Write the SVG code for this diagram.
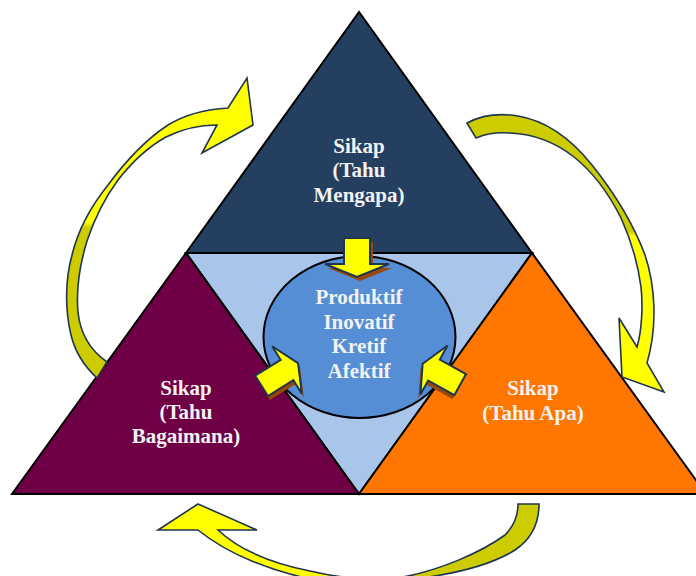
<svg xmlns="http://www.w3.org/2000/svg" width="696" height="576" viewBox="0 0 696 576">
  <defs>
    <style>
      .tri { stroke: #000000; stroke-width: 2; stroke-linejoin: miter; }
      .lbl { font-family: "Liberation Serif", "Times New Roman", serif; font-weight: bold; font-size: 21px; fill: #F2F2F2; text-anchor: middle; }
      .blk { fill: #FFFF00; stroke: #1F3550; stroke-width: 2; stroke-linejoin: miter; }
      .shd { fill: #984807; stroke: none; }
      .crv { stroke: #1F3550; stroke-width: 1.6; stroke-linejoin: miter; }
    </style>
    <linearGradient id="gLeft" x1="0" y1="0" x2="0" y2="1">
      <stop offset="0" stop-color="#FFFF00"/>
      <stop offset="0.48" stop-color="#FFFF00"/>
      <stop offset="0.5" stop-color="#CCCC00"/>
      <stop offset="1" stop-color="#CCCC00"/>
    </linearGradient>
    <linearGradient id="gRight" x1="0" y1="0" x2="0" y2="1">
      <stop offset="0" stop-color="#CCCC00"/>
      <stop offset="0.42" stop-color="#CCCC00"/>
      <stop offset="0.44" stop-color="#FFFF00"/>
      <stop offset="1" stop-color="#FFFF00"/>
    </linearGradient>
    <linearGradient id="gBottom" x1="0" y1="0" x2="1" y2="0">
      <stop offset="0" stop-color="#FFFF00"/>
      <stop offset="0.52" stop-color="#FFFF00"/>
      <stop offset="0.54" stop-color="#CCCC00"/>
      <stop offset="1" stop-color="#CCCC00"/>
    </linearGradient>
    <path id="arrowBig" d="M-26,-13 H0 V-32 L13,0 L0,32 V13 H-26 Z"/>
    <path id="arrowSmall" d="M-30,-12 H0 V-28 L13,0 L0,28 V12 H-30 Z"/>
  </defs>

  <rect x="0" y="0" width="696" height="576" fill="#FFFFFF"/>

  <g id="node-center">
    <polygon class="tri" points="186,253 532,253 359,494" fill="#A9C5E9"/>
  </g>
  <g id="node-top">
    <polygon class="tri" points="359,12 186,253 532,253" fill="#243F60"/>
    <text class="lbl" x="359" y="153">Sikap</text>
    <text class="lbl" x="359" y="177">(Tahu</text>
    <text class="lbl" x="359" y="202">Mengapa)</text>
  </g>
  <g id="node-left">
    <polygon class="tri" points="186,253 12,494 359,494" fill="#6F0046"/>
    <text class="lbl" x="186" y="395">Sikap</text>
    <text class="lbl" x="186" y="419">(Tahu</text>
    <text class="lbl" x="186" y="443">Bagaimana)</text>
  </g>
  <g id="node-right">
    <polygon class="tri" points="532,253 359,494 706,494" fill="#FF7600"/>
    <text class="lbl" x="533" y="395">Sikap</text>
    <text class="lbl" x="533" y="420">(Tahu Apa)</text>
  </g>
  <g id="node-core">
    <ellipse cx="359.5" cy="337" rx="96" ry="81" fill="#558ED5" stroke="#000000" stroke-width="2"/>
    <text class="lbl" x="359" y="304">Produktif</text>
    <text class="lbl" x="359" y="329">Inovatif</text>
    <text class="lbl" x="359" y="353">Kretif</text>
    <text class="lbl" x="359" y="378">Afektif</text>
  </g>

  <g id="connectors">
    <!-- block arrows into the core -->
    <use href="#arrowBig" class="shd" transform="translate(3,4) translate(357,264) rotate(90)"/>
    <use href="#arrowBig" class="blk" transform="translate(357,264) rotate(90)"/>
    <use href="#arrowSmall" class="shd" transform="translate(2,4) translate(287,370) rotate(-32)"/>
    <use href="#arrowSmall" class="blk" transform="translate(287,370) rotate(-32)"/>
    <use href="#arrowSmall" class="shd" transform="translate(-2,4) translate(434,370) rotate(-151)"/>
    <use href="#arrowSmall" class="blk" transform="translate(434,370) rotate(-151)"/>

    <!-- left curved arrow: Bagaimana to Mengapa -->
    <path class="crv" fill="url(#gLeft)" d="M97,378 C84,366 75,352 71,335 C65,310 65,280 72,255 C78,230 92,205 108,185 C125,162 145,140 168,125 C188,113 208,109 228,108 L247,78 L253,125 L202,153 L217,125 C200,125 182,129 166,137 C148,147 132,162 118,180 C104,199 94,220 87,241 C80,264 76,290 78,312 C80,332 90,350 107,362 Z"/>

    <!-- right curved arrow: Mengapa to Apa -->
    <path class="crv" fill="url(#gRight)" d="M467,123 C482,115 500,113 518,116 C548,121 572,140 592,165 C612,190 632,220 645,255 C655,285 658,325 647,363 L664,392 L622,377 L619,318 L637,347 C642,330 643,305 641,287 C638,264 631,240 621,218 C609,194 594,173 574,157 C555,142 532,134 510,133 C495,132 485,134 476,138 Z"/>

    <!-- bottom curved arrow: Apa to Bagaimana -->
    <path class="crv" fill="url(#gBottom)" d="M198,504 L257,530 L218,530 C235,546 265,562 310,571 C340,578 370,582 403,577 C440,570 480,553 505,535 C514,526 518,515 518,504 L539,504 C539,520 533,538 515,550 C490,566 450,575 407,580 C370,585 340,585 315,580 C275,572 230,556 198,530 L158,530 Z"/>
  </g>
</svg>
